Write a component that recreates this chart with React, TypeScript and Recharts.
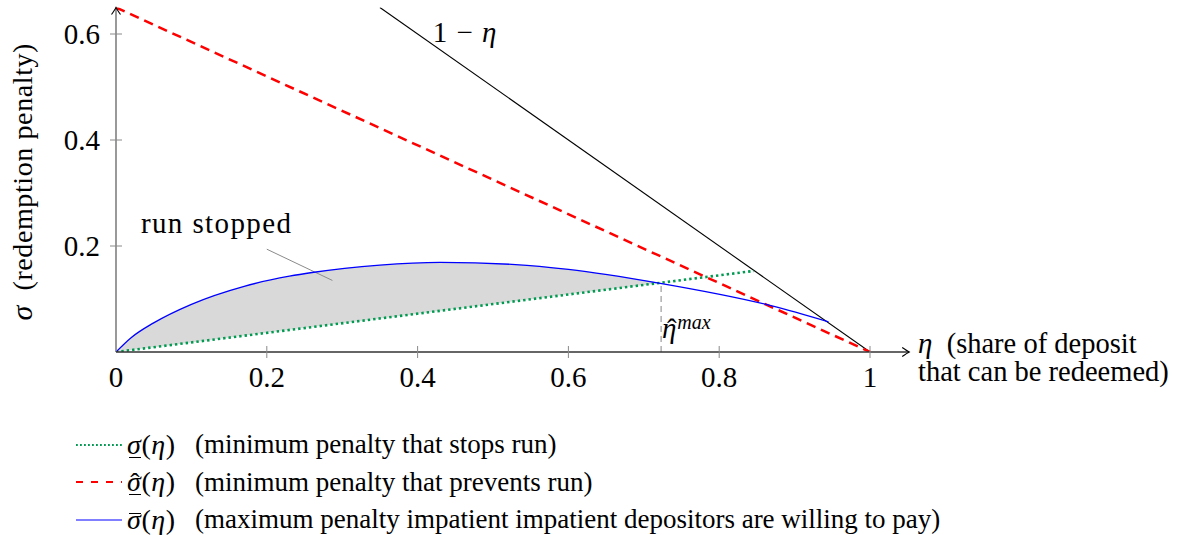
import React from 'react';
import {
  ComposedChart,
  Line,
  Area,
  XAxis,
  YAxis,
  ReferenceLine,
  ReferenceDot,
  Legend,
} from 'recharts';

const FONT = "'Liberation Serif', 'DejaVu Serif', serif";

// ---- data ----
const xTicks = [0, 0.2, 0.4, 0.6, 0.8, 1];
const yTicks = [0.2, 0.4, 0.6];

// sigma underline: minimum penalty that stops run
const stopEta = [0, 0.846];
const stopSigma = [0, 0.153];

// sigma hat: minimum penalty that prevents run
const preventEta = [0, 1];
const preventSigma = [0.65, 0];

// sigma bar: maximum penalty impatient depositors are willing to pay
const maxEta = [0, 0.02, 0.05, 0.1, 0.17, 0.23, 0.26, 0.35, 0.43, 0.53, 0.6, 0.72, 0.87, 0.945];
const maxSigma = [0, 0.027, 0.055, 0.09, 0.124, 0.143, 0.15, 0.164, 0.169, 0.165, 0.156, 0.13, 0.087, 0.057];

// 1 - eta
const oneMinusEta = [0.35, 1];
const oneMinusSigma = [0.65, 0];

// shaded "run stopped" region
const shadeEta = [0, 0.02, 0.05, 0.1, 0.17, 0.23, 0.26, 0.35, 0.43, 0.53, 0.6, 0.723];
const shadeLow = [0, 0.004, 0.009, 0.018, 0.031, 0.042, 0.047, 0.063, 0.078, 0.096, 0.109, 0.13];
const shadeHigh = [0, 0.027, 0.055, 0.09, 0.124, 0.143, 0.15, 0.164, 0.169, 0.165, 0.156, 0.13];

const etaHatMax = 0.723;
const etaHatMaxSigma = 0.13;

const axisEnd = 1.052;
const axisTop = 0.65;

const legendOrder = ['stop', 'prevent', 'max'];
const legendText: Record<string, string> = {
  stop: '(minimum penalty that stops run)',
  prevent: '(minimum penalty that prevents run)',
  max: '(maximum penalty impatient impatient depositors are willing to pay)',
};

// ---- build series ----
const toPts = (xs: number[], ys: number[]) => xs.map((x, i) => ({ x, y: ys[i] }));
const stopData = toPts(stopEta, stopSigma);
const preventData = toPts(preventEta, preventSigma);
const maxData = toPts(maxEta, maxSigma);
const oneMinusData = toPts(oneMinusEta, oneMinusSigma);
const shadeData = shadeEta.map((x, i) => ({ x, range: [shadeLow[i], shadeHigh[i]] }));

const fmt = (v: number) => (v === 0 ? '0' : v === 1 ? '1' : String(v));

const XTick = (props: any) => {
  const { x, y, payload } = props;
  return (
    <g>
      {payload.value !== 0 && (
        <line x1={x} x2={x} y1={y - 6} y2={y + 6} stroke="#8a8a8a" strokeWidth={1} />
      )}
      <text x={x} y={y + 35} textAnchor="middle" fontFamily={FONT} fontSize={29} fill="#000">
        {fmt(payload.value)}
      </text>
    </g>
  );
};

const YTick = (props: any) => {
  const { x, y, payload } = props;
  return (
    <g>
      <line x1={x - 6} x2={x + 6} y1={y} y2={y} stroke="#8a8a8a" strokeWidth={1} />
      <text x={x - 16} y={y + 10} textAnchor="end" fontFamily={FONT} fontSize={29} fill="#000">
        {fmt(payload.value)}
      </text>
    </g>
  );
};

const ArrowLine = (props: any) => {
  const { x1, y1, x2, y2, color, width } = props;
  const dx = x2 - x1;
  const dy = y2 - y1;
  const len = Math.sqrt(dx * dx + dy * dy) || 1;
  const ux = dx / len;
  const uy = dy / len;
  const px = -uy;
  const py = ux;
  const b = 7;
  const w = 4.5;
  const head = `M ${x2 - ux * b + px * w} ${y2 - uy * b + py * w} Q ${x2 - ux * 2 + px * 1} ${y2 - uy * 2 + py * 1} ${x2} ${y2} Q ${x2 - ux * 2 - px * 1} ${y2 - uy * 2 - py * 1} ${x2 - ux * b - px * w} ${y2 - uy * b - py * w}`;
  return (
    <g>
      <line x1={x1} y1={y1} x2={x2} y2={y2} stroke={color} strokeWidth={width} />
      <path d={head} fill="none" stroke="#000" strokeWidth={1.1} />
    </g>
  );
};

const XLabel = (props: any) => {
  const vb = props.viewBox || { x: 0, y: 0, width: 0 };
  const x0 = vb.x + vb.width + 48;
  const y0 = vb.y;
  return (
    <text fontFamily={FONT} fontSize={28.5} fill="#000">
      <tspan x={x0} y={y0 + 1}>
        <tspan fontStyle="italic" fontSize={29}>η</tspan>
        {'\u2002(share of deposit'}
      </tspan>
      <tspan x={x0} y={y0 + 29}>that can be redeemed)</tspan>
    </text>
  );
};

const YLabel = (props: any) => {
  const vb = props.viewBox || { x: 0, y: 0, width: 0, height: 0 };
  const cx = vb.x + (vb.width || 0) - 84;
  const cy = vb.y + vb.height / 2 + 2;
  return (
    <text
      x={cx}
      y={cy}
      textAnchor="middle"
      transform={`rotate(-90, ${cx}, ${cy})`}
      fontFamily={FONT}
      fontSize={28}
      fill="#000"
      letterSpacing={0.6}
    >
      <tspan fontStyle="italic" fontSize={30}>σ</tspan>
      <tspan>{'\u2002(redemption penalty)'}</tspan>
    </text>
  );
};

const Bar = ({ top }: { top: string }) => (
  <span
    style={{
      position: 'absolute',
      left: '0.08em',
      right: '0.02em',
      top,
      borderTop: '1.4px solid #000',
    }}
  />
);

const Hat = () => (
  <span style={{ position: 'absolute', left: '0.12em', top: '0.04em', fontStyle: 'normal' }}>ˆ</span>
);

const mathFor = (name: string) => {
  if (name === 'stop') {
    return (
      <span style={{ position: 'relative', fontStyle: 'italic' }}>
        σ
        <Bar top="1.0em" />
      </span>
    );
  }
  if (name === 'prevent') {
    return (
      <span style={{ position: 'relative', fontStyle: 'italic' }}>
        σ
        <Hat />
        <Bar top="1.0em" />
      </span>
    );
  }
  return (
    <span style={{ position: 'relative', fontStyle: 'italic' }}>
      σ
      <Bar top="0.34em" />
    </span>
  );
};

const LegendContent = (props: any) => {
  const payload: any[] = props.payload || [];
  const entries = legendOrder
    .map((n) => payload.find((p: any) => p.value === n))
    .filter(Boolean) as any[];
  return (
    <div style={{ fontFamily: FONT, color: '#000' }}>
      {entries.map((p: any) => {
        const name = p.value;
        const sw = name === 'stop' ? 1.8 : name === 'prevent' ? 2 : 1.2;
        const da = name === 'stop' ? '1.8 2.2' : name === 'prevent' ? '7 8' : undefined;
        return (
          <div
            key={name}
            style={{ display: 'flex', alignItems: 'center', height: 37.5, whiteSpace: 'nowrap' }}
          >
            <svg width={51} height={20} style={{ display: 'block', flex: 'none' }}>
              <line x1={0} y1={10} x2={46} y2={10} stroke={p.color} strokeWidth={sw} strokeDasharray={da} />
            </svg>
            <span style={{ fontSize: 28, letterSpacing: 0.6, display: 'inline-block', width: 57, flex: 'none' }}>
              {mathFor(name)}
              <span>(</span>
              <span style={{ fontStyle: 'italic' }}>η</span>
              <span>)</span>
            </span>
            <span style={{ fontSize: 27, marginLeft: 11 }}>{legendText[name]}</span>
          </div>
        );
      })}
    </div>
  );
};

const TextMark = (children: React.ReactNode, size = 29, spacing = 0) => (props: any) => (
  <text x={props.cx} y={props.cy} fontFamily={FONT} fontSize={size} fill="#000" letterSpacing={spacing}>
    {children}
  </text>
);

const EtaHatMaxMark = (props: any) => (
  <g>
    <text x={props.cx} y={props.cy} fontFamily={FONT} fontSize={29} fill="#000">
      <tspan fontStyle="italic">η</tspan>
      <tspan fontStyle="italic" fontSize={20} dx={1} dy={-9}>max</tspan>
    </text>
    <text x={props.cx + 5} y={props.cy + 1} fontFamily={FONT} fontSize={29} fill="#000">ˆ</text>
  </g>
);

export default function App() {
  return (
    <div style={{ position: 'absolute', left: 0, top: 0, width: 1186, height: 535, background: '#fff' }}>
      <ComposedChart
        width={1186}
        height={535}
        margin={{ top: 7.5, right: 316, bottom: 182, left: 115 }}
      >
        <XAxis
          type="number"
          dataKey="x"
          domain={[0, 1]}
          ticks={xTicks}
          interval={0}
          axisLine={false}
          tickLine={false}
          tickSize={0}
          tickMargin={0}
          height={1}
          tick={<XTick />}
          label={<XLabel />}
        />
        <YAxis
          type="number"
          domain={[0, axisTop]}
          allowDataOverflow
          ticks={yTicks}
          interval={0}
          axisLine={false}
          tickLine={false}
          tickSize={0}
          tickMargin={0}
          width={1}
          tick={<YTick />}
          label={<YLabel />}
        />
        <Area
          data={shadeData}
          dataKey="range"
          type="monotone"
          stroke="none"
          fill="#d9d9d9"
          fillOpacity={1}
          isAnimationActive={false}
          legendType="none"
          activeDot={false}
        />
        <ReferenceLine
          segment={[{ x: etaHatMax, y: 0 }, { x: etaHatMax, y: etaHatMaxSigma }]}
          stroke="#b0b0b0"
          strokeWidth={1.5}
          strokeDasharray="6 4"
          ifOverflow="visible"
        />
        <ReferenceLine
          segment={[{ x: 0.2, y: 0.194 }, { x: 0.287, y: 0.135 }]}
          stroke="#8a8a8a"
          strokeWidth={1}
          ifOverflow="visible"
        />
        <Line
          data={oneMinusData}
          dataKey="y"
          name="oneMinus"
          type="linear"
          stroke="#000"
          strokeWidth={1.1}
          dot={false}
          activeDot={false}
          legendType="none"
          isAnimationActive={false}
        />
        <Line
          data={stopData}
          dataKey="y"
          name="stop"
          type="linear"
          stroke="#009a50"
          strokeWidth={2.6}
          strokeDasharray="2.4 3"
          dot={false}
          activeDot={false}
          isAnimationActive={false}
        />
        <Line
          data={preventData}
          dataKey="y"
          name="prevent"
          type="linear"
          stroke="#ff0000"
          strokeWidth={2.5}
          strokeDasharray="9.5 6"
          dot={false}
          activeDot={false}
          isAnimationActive={false}
        />
        <Line
          data={maxData}
          dataKey="y"
          name="max"
          type="monotone"
          stroke="#0000ff"
          strokeWidth={1.3}
          dot={false}
          activeDot={false}
          isAnimationActive={false}
        />
        <ReferenceLine
          segment={[{ x: 0, y: 0 }, { x: 0, y: axisTop }]}
          ifOverflow="visible"
          shape={(p: any) => <ArrowLine {...p} color="#808080" width={1.6} />}
        />
        <ReferenceLine
          segment={[{ x: 0, y: 0 }, { x: axisEnd, y: 0 }]}
          ifOverflow="visible"
          shape={(p: any) => <ArrowLine {...p} color="#333" width={1.6} />}
        />
        <ReferenceDot
          x={0.42}
          y={0.585}
          r={0}
          ifOverflow="visible"
          shape={TextMark(
            <>
              {'1 − '}
              <tspan fontStyle="italic">η</tspan>
            </>,
            29,
            1
          )}
        />
        <ReferenceDot
          x={0.033}
          y={0.2245}
          r={0}
          ifOverflow="visible"
          shape={TextMark('run stopped', 29, 1.4)}
        />
        <ReferenceDot x={0.724} y={0.026} r={0} ifOverflow="visible" shape={EtaHatMaxMark} />
        <Legend
          layout="horizontal"
          align="center"
          verticalAlign="middle"
          content={<LegendContent />}
          wrapperStyle={{ left: 76, top: 426, width: 1000, height: 'auto' }}
        />
      </ComposedChart>
    </div>
  );
}
